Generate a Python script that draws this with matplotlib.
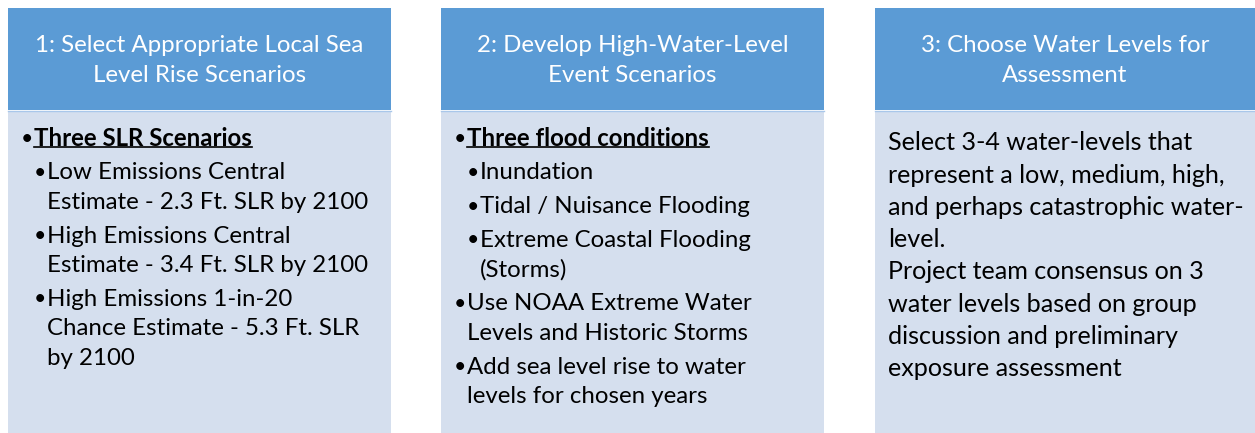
import matplotlib
matplotlib.use("Agg")
import matplotlib.pyplot as plt
from matplotlib.patches import Rectangle

plt.rcParams['font.family'] = ['Lato', 'DejaVu Sans']

# text content of the three columns
headers = [
    ["1: Select Appropriate Local Sea", "Level Rise Scenarios"],
    ["2: Develop High-Water-Level", "Event Scenarios"],
    ["3: Choose Water Levels for", "Assessment"],
]

# (level, bold heading?, wrapped lines)
col1_items = [
    (0, True, ["Three SLR Scenarios"]),
    (1, False, ["Low Emissions Central", "Estimate - 2.3 Ft. SLR by 2100"]),
    (1, False, ["High Emissions Central", "Estimate - 3.4 Ft. SLR by 2100"]),
    (1, False, ["High Emissions 1-in-20", "Chance Estimate - 5.3 Ft. SLR", "by 2100"]),
]
col2_items = [
    (0, True, ["Three flood conditions"]),
    (1, False, ["Inundation"]),
    (1, False, ["Tidal / Nuisance Flooding"]),
    (1, False, ["Extreme Coastal Flooding", "(Storms)"]),
    (0, False, ["Use NOAA Extreme Water", "Levels and Historic Storms"]),
    (0, False, ["Add sea level rise to water", "levels for chosen years"]),
]
col3_lines = [
    "Select 3-4 water-levels that",
    "represent a low, medium, high,",
    "and perhaps catastrophic water-",
    "level.",
    "Project team consensus on 3",
    "water levels based on group",
    "discussion and preliminary",
    "exposure assessment",
]

W, H = 1255, 433
fig = plt.figure(figsize=(W / 100, H / 100), dpi=100)
ax = fig.add_axes([0, 0, 1, 1])
ax.set_xlim(0, W)
ax.set_ylim(H, 0)
ax.axis("off")

head_c = "#5B9BD5"
body_c = "#D5DFEE"
col_x = [8, 441, 875]
col_w = 383
fs = 17.3

for x0, hd in zip(col_x, headers):
    w = col_w if x0 < 800 else W - x0
    ax.add_patch(Rectangle((x0, 8), w, 102, facecolor=head_c, edgecolor="none"))
    ax.add_patch(Rectangle((x0, 111), w, H - 111, facecolor=body_c, edgecolor="none"))
    ax.plot([x0, x0 + w], [110.5, 110.5], color="#A9C7EA", lw=1)
    for i, line in enumerate(hd):
        ax.text(x0 + w / 2, 46 + i * 29, line, color="white", fontsize=fs,
                ha="center", va="center")

underlines = []


def draw_items(x0, items):
    y = 139
    for level, bold, lines in items:
        bx = x0 + (18.5 if level == 0 else 32)
        tx = x0 + (26 if level == 0 else 39)
        ax.text(bx, y, "\u2022", fontsize=fs - 2, ha="center", va="center", color="black")
        for j, line in enumerate(lines):
            t = ax.text(tx, y, line, fontsize=fs, ha="left", va="center",
                        color="black", fontweight="bold" if bold else "normal")
            if bold:
                underlines.append(t)
            if j < len(lines) - 1:
                y += 29.5
        y += 33.8


draw_items(col_x[0], col1_items)
draw_items(col_x[1], col2_items)

for i, line in enumerate(col3_lines):
    ax.text(col_x[2] + 13, 143 + i * 32.2, line, fontsize=18.1, ha="left",
            va="center", color="black")

# underline the bold headings
fig.canvas.draw()
r = fig.canvas.get_renderer()
inv = ax.transData.inverted()
for t in underlines:
    bb = t.get_window_extent(r)
    (xa, ya), (xb, yb) = inv.transform([[bb.x0, bb.y0], [bb.x1, bb.y1]])
    ax.plot([xa, xb], [ya - 4, ya - 4], color="black", lw=1.2)

fig.savefig("out.png", dpi=100)
